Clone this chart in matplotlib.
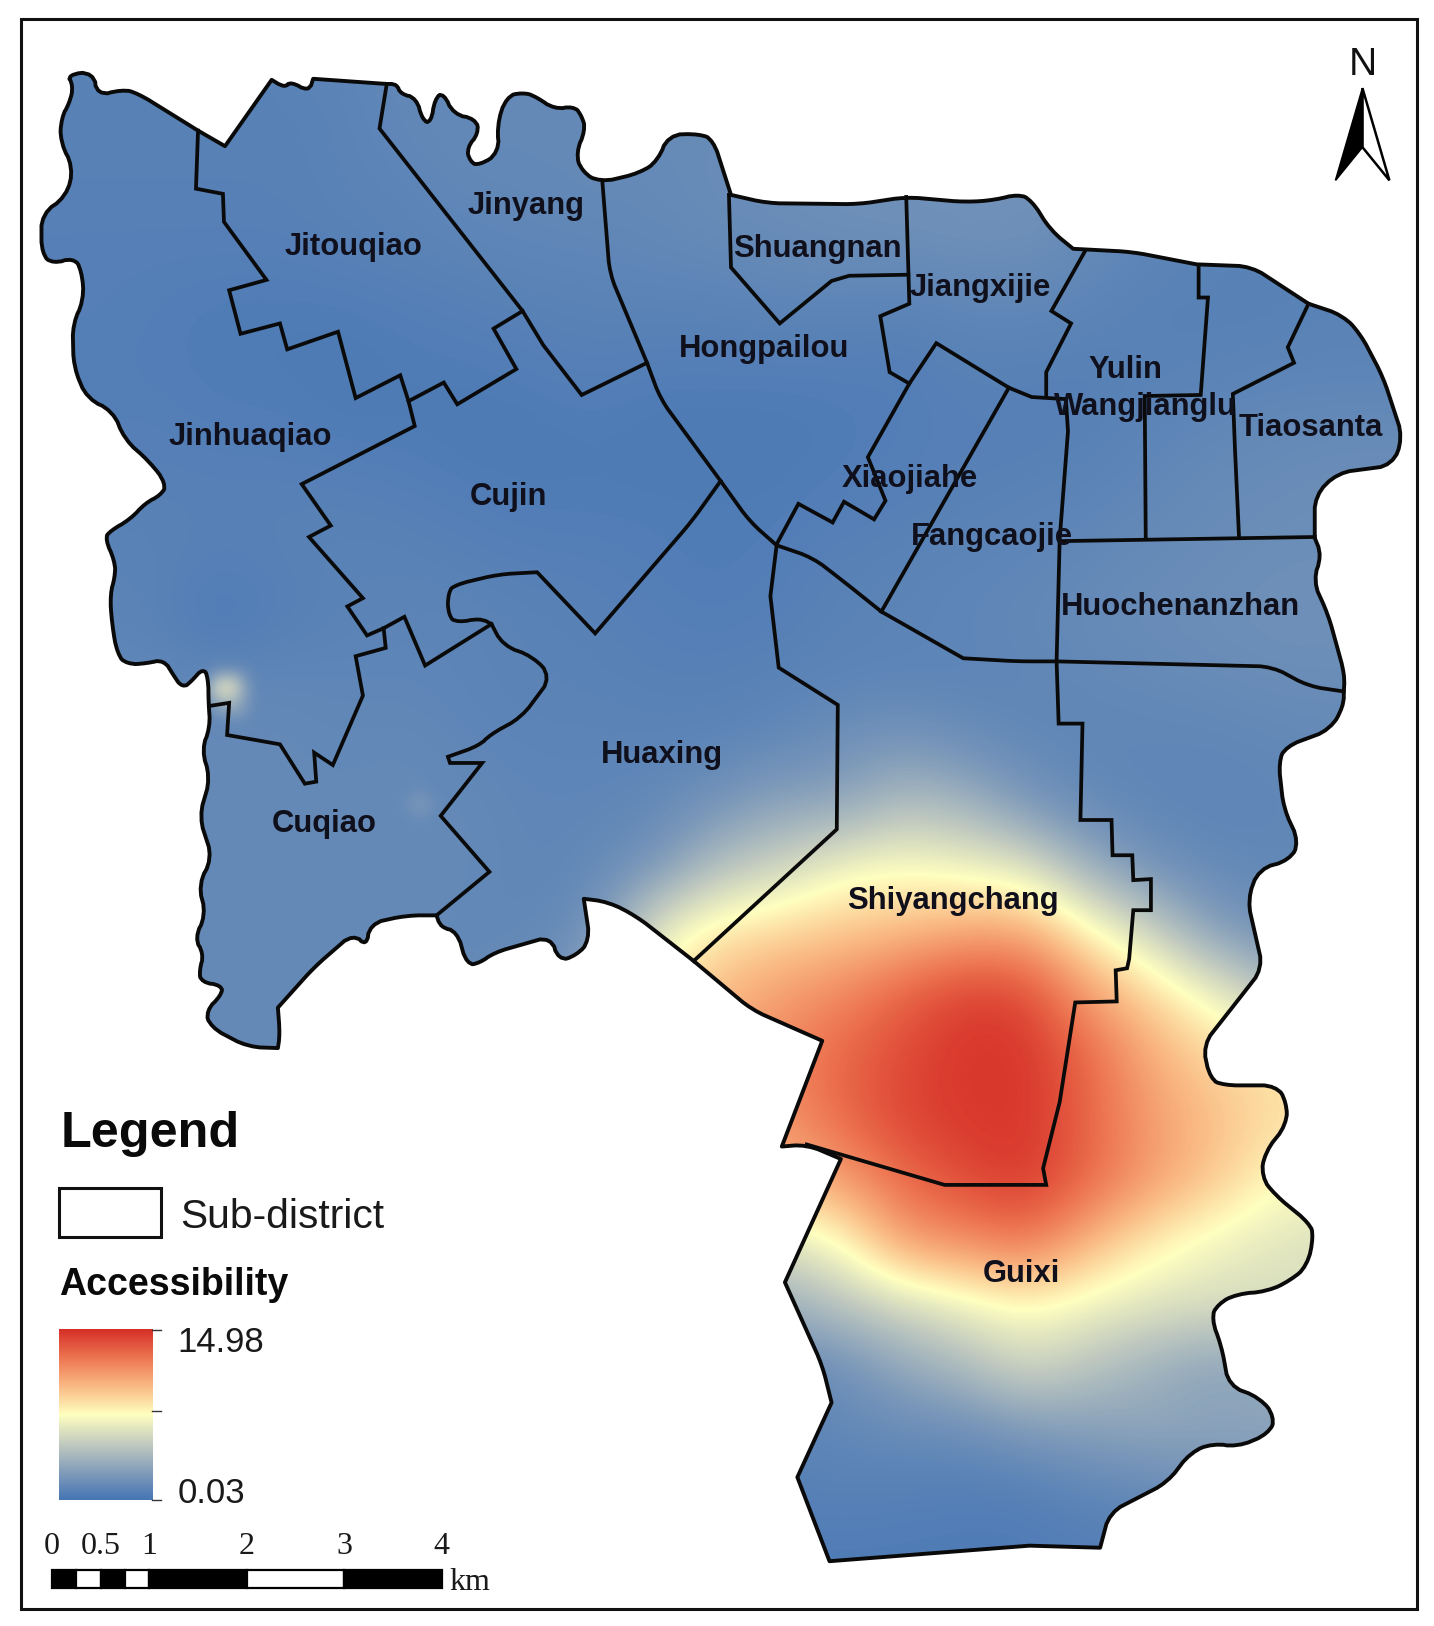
import numpy as np
import matplotlib
matplotlib.use("Agg")
import matplotlib.pyplot as plt
from matplotlib.colors import LinearSegmentedColormap
from matplotlib.patches import Polygon, Rectangle

plt.rcParams['font.family'] = ['Liberation Sans', 'DejaVu Sans']

W, H = 1383, 1568.5

# ---- study-area outline (map units) ----
outline = [(64,72),(91,69),(93,93),(118,86),(133,90),(191,126),(217,141),(262,77),(275,85),(280,78),(298,89),(302,76),
 (373,81),(383,81),(386,91),(402,94),(407,116),(416,119),(419,95),(428,89),(437,111),(459,114),(462,129),(450,142),
 (453,156),(462,160),(482,147),(479,122),(488,93),(504,89),(517,93),(535,106),(553,102),(561,111),(565,126),(555,147),
 (561,166),(579,176),(617,167),(635,155),(644,130),(675,129),(688,135),(705,188),(740,196),(828,197),(874,190),
 (931,195),(960,193),(982,187),(995,193),(1013,222),(1035,240),(1092,243),(1154,255),(1207,257),(1262,293),(1295,304),
 (1312,322),(1334,364),(1353,422),(1343,449),(1290,456),(1268,478),(1268,519),(1275,536),(1266,560),(1281,593),
 (1297,651),(1296,667),(1296,681),(1283,704),(1240,720),(1233,735),(1238,780),(1253,812),(1244,830),(1214,838),
 (1203,868),(1218,934),(1193,966),(1160,1008),(1167,1041),(1180,1047),(1231,1047),(1241,1063),(1241,1085),(1220,1111),
 (1216,1135),(1230,1153),(1263,1180),(1267,1192),(1261,1221),(1245,1235),(1222,1246),(1193,1248),(1174,1258),
 (1168,1272),(1178,1298),(1185,1337),(1215,1348),(1230,1367),(1224,1383),(1193,1396),(1170,1392),(1148,1401),
 (1126,1430),(1070,1459),(1061,1493),(993,1491),(800,1506),(769,1425),(802,1353),(793,1317),(757,1237),(811,1118),
 (778,1104),(754,1106),(793,1004),(725,974),(669,927),(614,884),(587,870),(563,867),(569,907),(556,922),(538,927),
 (532,903),(476,919),(463,929),(450,931),(441,898),(425,895),(421,883),(392,883),(356,891),(354,914),(341,900),
 (303,933),(268,972),(270,998),(268,1011),(239,1010),(203,991),(198,975),(214,960),(214,950),(194,948),(192,936),
 (197,920),(187,905),(199,883),(191,853),(205,828),(192,788),(203,750),(194,723),(203,702),(201,678),(201,654),
 (196,644),(185,657),(176,664),(167,651),(158,636),(142,640),(122,641),(113,631),(108,602),(106,573),(111,557),
 (111,541),(101,520),(106,512),(126,501),(140,485),(155,478),(161,467),(144,445),(120,424),(109,396),(84,385),
 (71,354),(70,312),(81,290),(79,261),(71,248),(51,255),(40,245),(40,206),(64,190),(71,161),(58,138),(59,113),
 (67,100),(71,82)]

# vertices of the outline and of the curved boundaries that stay sharp corners
sharp = {(191,126),(217,141),(262,77),(302,76),(373,81),(705,188),(1262,293),(1268,519),(1061,1493),(993,1491),(800,1506),
         (769,1425),(802,1353),(757,1237),(811,1118),(754,1106),(793,1004),(669,927),(563,867),(421,883),(268,972),
         (268,1011),(1296,667),(1035,240),(1154,255),
         (624,350),(695,464),(749,526),(850,590),(1019,638),(929,635),(574,611),(518,552),(474,602),(465,736),(425,787),
         (472,841),(434,736),(432,730)}

# ---- sub-district boundaries (map units) ----
boundaries = [
 [(191,126),(189,182),(215,187),(216,214),(257,270),(221,280),(232,322),(270,312),(277,337),(326,320),(343,384),
  (386,362),(394,387),(428,369),(441,390),(498,356),(476,317),(504,300)],
 [(394,387),(400,411),(291,467),(319,507),(298,518),(350,577),(335,585),(354,613),(370,606),(390,595),(410,642),(474,602)],
 [(373,81),(366,124),(504,300),(524,333),(561,381),(624,350)],
 [(581,176),(588,264),(624,350),(637,385),(695,464),(723,503),(749,526),(784,538),(815,562),(850,590),(929,635),
  (982,638),(1019,638),(1227,643),(1262,662),(1296,667)],
 [(695,464),(667,503),(574,611),(518,552),(481,554),(439,564),(432,571),(432,594),(441,601),(463,596),(474,602),
  (485,623),(514,633),(532,653),(503,692),(472,709),(463,719),(432,730),(434,736),(465,736),(425,787),(472,841),(421,883)],
 [(370,606),(372,625),(343,633),(350,671),(321,738),(303,726),(305,754),(294,756),(270,718),(219,709),(221,678),(202,681)],
 [(749,526),(743,575),(751,644),(808,680),(807,800),(669,927)],
 [(703,188),(705,258),(752,312),(802,271),(819,266),(876,265)],
 [(874,190),(877,293),(849,305),(858,359),(877,370)],
 [(749,525),(770,486),(803,504),(814,484),(843,501),(854,483),(837,441),(877,370),(903,331),(973,374),(995,383),(1028,385)],
 [(973,374),(850,590)],
 [(1028,385),(1030,416),(1022,520),(1019,638),(1021,698),(1044,698),(1042,791),(1072,791),(1073,825),(1092,825),
  (1093,849),(1110,848),(1110,878),(1093,878),(1089,925),(1087,934),(1076,936),(1077,966),(1037,967),(1022,1063),
  (1006,1127),(1009,1143),(911,1143),(778,1104)],
 [(1046,243),(1014,300),(1033,312),(1009,359),(1009,383)],
 [(1156,256),(1156,287),(1165,287),(1158,381),(1104,382),(1105,520)],
 [(1262,293),(1242,335),(1248,350),(1189,380),(1191,432),(1195,519)],
 [(1022,522),(1268,518)],
]
curved_boundaries = [3, 4]

# ---- sub-district names ----
label_names = ["Jinyang","Jitouqiao","Shuangnan","Jiangxijie","Hongpailou","Yulin","Wangjianglu","Tiaosanta",
               "Jinhuaqiao","Cujin","Xiaojiahe","Fangcaojie","Huochenanzhan","Huaxing","Cuqiao","Shiyangchang","Guixi"]
label_x = [507,341,788,945,737,1085,1105,1264,241,490,877,957,1138,638,313,919,985]
label_y = [196,235,237,275,334,354,390,410,419,476,459,515,583,725,792,866,1226]

# ---- accessibility raster, sampled from the map ----
grid_x = [30,90,150,210,270,330,390,450,510,570,630,690,750,810,870,930,990,1050,1110,1170,1230,1290,1350]
grid_y = [60,120,180,240,300,360,420,480,540,600,660,720,780,840,900,960,1020,1080,1140,1200,1260,1320,1380,1440,1500]
access = [
 [.8,.8,.8,.8,.9,1,1.2,1.2,1.2,1.3,1.3,1.3,1.4,1.5,1.6,1.7,1.7,1.5,1.3,1.2,1.2,1.2,1.2],
 [.8,.8,.8,.8,.8,.9,1.2,1.3,1.3,1.3,1.4,1.4,1.5,1.6,1.7,1.8,1.8,1.5,1.3,1.2,1.2,1.2,1.2],
 [.8,.8,.8,.8,.8,.9,1,1.2,1.2,1.3,1.3,1.5,1.6,1.7,1.8,1.9,1.9,1.6,1.2,.9,.9,.9,.9],
 [.7,.7,.7,.7,.7,.8,.9,1,1.1,1.1,1.2,1.3,1.4,1.5,1.5,1.6,1.6,1.3,1,.9,.8,.9,.9],
 [.7,.7,.6,.5,.5,.5,.6,.7,.8,.9,.9,.9,1,1,.9,1.1,1.1,1,.8,.8,.8,.9,.9],
 [.6,.6,.6,.5,.5,.4,.5,.5,.6,.7,.6,.6,.6,.6,.6,.8,.8,.7,.9,.9,1,1,1],
 [.7,.7,.7,.6,.6,.5,.5,.4,.4,.5,.4,.4,.4,.5,.6,.7,.7,.8,1,1.2,1.3,1.4,1.4],
 [.8,.8,.8,.8,.8,.8,.7,.6,.5,.5,.5,.5,.5,.6,.7,.8,.9,1,1.2,1.4,1.5,1.6,1.6],
 [.9,.9,.9,.7,.8,.9,.9,.8,.7,.7,.6,.5,.6,.8,.9,1,1.1,1.2,1.4,1.5,1.6,1.6,1.6],
 [1,1,.9,.3,.7,.9,1,1,.9,.8,.7,.6,.7,.9,1,1.1,1.2,1.4,1.5,1.6,1.7,1.7,1.7],
 [1.2,1.2,1.2,1.2,1.2,1.1,1.1,1,.9,.9,.8,.8,.9,1,1,1,1.1,1.2,1.3,1.4,1.5,1.5,1.5],
 [1.3,1.3,1.3,1.3,1.3,1.2,1.3,1.1,1,1,1,1,1.2,1.7,2.2,1.6,1.2,1.1,1.1,1.1,1.2,1.3,1.3],
 [1.3,1.3,1.3,1.3,1.3,1.3,1.3,1.3,1.1,1.1,1.2,2,3,3,4.5,4,2.2,1.3,1.1,1,1.1,1.2,1.2],
 [1.3,1.3,1.3,1.3,1.3,1.3,1.3,1.3,1.1,1.2,2,4.5,5.5,7.2,7.5,7,6.5,3.5,1.8,1.3,1.2,1.2,1.2],
 [1.3,1.3,1.3,1.3,1.3,1.3,1.3,1.2,1.2,1.5,6.5,8.5,9,9.5,10,10.8,10.8,8,5.5,2.5,1.7,1.5,1.5],
 [1.3,1.3,1.3,1.3,1.3,1.3,1.3,1.3,1.5,3,8,10,11,11.8,13.2,14.4,14.2,11,9,7,4.5,3,3],
 [1.3,1.3,1.3,1.3,1.3,1.3,1.3,1.3,1.5,3,8,10.5,11.8,13,14,14.8,14.8,13,10.5,9,8.5,8,8],
 [1.3,1.3,1.3,1.3,1.3,1.3,1.3,1.3,1.5,3,8,10.5,11.2,12.8,14.2,14.6,14.8,13,11,9.8,8.7,8.5,8.5],
 [1.3,1.3,1.3,1.3,1.3,1.3,1.3,1.3,1.5,3,7,9.5,10,10.8,12.8,14,14.7,13,11,9.5,7.6,7,7],
 [1.3,1.3,1.3,1.3,1.3,1.3,1.3,1.3,1.5,2.5,4,5,6,7.2,11,11.5,12.5,10,8,6.8,6.2,6,6],
 [1.3,1.3,1.3,1.3,1.3,1.3,1.3,1.3,1.4,1.8,2.2,2.8,3.3,4.5,5.5,6.6,7.6,6.8,6.2,6,6,6,6],
 [1.3,1.3,1.3,1.3,1.3,1.3,1.3,1.3,1.2,1.2,1.2,1.2,1.2,1.5,3,4,5.6,4.5,3.5,2.5,3,3,3],
 [1.2,1.2,1.2,1.2,1.2,1.2,1.2,1.2,1.1,1.1,1,1,1,1.2,1.4,1.5,2.2,2.6,3,3,3,3,3],
 [1,1,1,1,1,1,1,1,1,1,.9,.8,.7,.8,.7,.6,.6,1,1.2,1.5,1.5,1.5,1.5],
 [.8,.8,.8,.8,.8,.8,.8,.8,.8,.8,.7,.6,.5,.5,.5,.5,.5,.6,.7,.8,.8,.8,.8],
]

# fine local samples around the two small bright spots
hot_x = [180,194,208,222,236,250,264]
hot_y = [636,650,664,678,692,706]
hot_vals = [
 [1.2,1.2,1.3,1.3,1.3,1.2,1.2],
 [1.2,1.4,2.6,3.2,2.0,1.3,1.2],
 [1.2,1.8,5.5,6.5,3.2,1.5,1.2],
 [1.2,1.6,3.4,4.0,2.6,1.5,1.2],
 [1.2,1.3,1.8,2.2,2.0,1.4,1.2],
 [1.2,1.2,1.2,1.2,1.2,1.2,1.2],
]
spot_x = [376,390,404,418,432]
spot_y = [748,762,776,790,804]
spot_vals = [
 [1.3,1.3,1.3,1.3,1.3],
 [1.3,1.5,1.8,1.5,1.3],
 [1.3,1.8,2.6,1.8,1.3],
 [1.3,1.5,1.8,1.5,1.3],
 [1.3,1.3,1.3,1.3,1.3],
]

# ---- legend values ----
cbar_min, cbar_max = 0.03, 14.98
ramp_colors = ["#4575B5", "#849EBA", "#C4CCC0", "#FFFFBF", "#FAB984", "#ED7551", "#D62F27"]
scale_km = [0, 0.25, 0.5, 0.75, 1, 2, 3, 4]
scale_labels = ["0", "0.5", "1", "2", "3", "4"]
scale_label_km = [0, 0.5, 1, 2, 3, 4]

cmap = LinearSegmentedColormap.from_list("access", ramp_colors, N=256)


def smooth(points, closed):
    """Round bends by cutting corners over a few map units, keeping the listed sharp vertices."""
    pts = [(np.array(p, float), tuple(p) in sharp) for p in points]
    for cap in (8.0, 3.5):
        new = []
        n = len(pts)
        for i, (p, keep) in enumerate(pts):
            if keep or (not closed and i in (0, n - 1)):
                new.append((p, keep))
                continue
            for q, _ in (pts[(i - 1) % n], pts[(i + 1) % n]):
                d = q - p
                L = np.linalg.norm(d)
                new.append((p + d * min(0.3, cap / L), False))
        pts = new
    return np.array([p for p, _ in pts])


fig = plt.figure(figsize=(14.34, 16.26), dpi=100)
ax = fig.add_axes([0, 0, 1, 1])
ax.set_axis_off()

# frame
ax.add_patch(Rectangle((20, 18), 1347, 1534, fill=False, ec="#111111", lw=2.2, zorder=1))

# raster clipped to the outline
outline_s = smooth(outline, True)
clip = Polygon(outline_s, closed=True, transform=ax.transData, fc="none", ec="none")
ax.add_patch(clip)


def raster(xs, ys, vals, z, base=None):
    dx, dy = (xs[1] - xs[0]) / 2, (ys[1] - ys[0]) / 2
    arr = np.array(vals)
    alpha = None if base is None else np.clip((arr - base) / 0.7, 0, 1)
    im = ax.imshow(arr, cmap=cmap, vmin=cbar_min, vmax=cbar_max, interpolation="bicubic", aspect="auto", alpha=alpha,
                   extent=(xs[0]-dx, xs[-1]+dx, ys[-1]+dy, ys[0]-dy), zorder=z)
    im.set_clip_path(clip)


raster(grid_x, grid_y, access, 2)
raster(hot_x, hot_y, hot_vals, 2.1, base=1.3)
raster(spot_x, spot_y, spot_vals, 2.1, base=1.3)

# boundaries
ax.add_patch(Polygon(outline_s, closed=True, fill=False, ec="#0a0a0a", lw=2.8, joinstyle="round", zorder=3))
for i, line in enumerate(boundaries):
    s = smooth(line, False) if i in curved_boundaries else np.array(line, float)
    ax.plot(s[:, 0], s[:, 1], color="#0a0a0a", lw=2.7, solid_joinstyle="miter", zorder=3)

# names
for name, x, y in zip(label_names, label_x, label_y):
    ax.text(x, y + 3, name, ha="center", va="center", fontsize=22.3, fontweight="bold", color="#10101c", zorder=4)

# legend
ax.text(58, 1094, "Legend", ha="left", va="center", fontsize=36.3, fontweight="bold", color="#0a0a0a")
ax.add_patch(Rectangle((57, 1146), 98, 47, fill=False, ec="#111111", lw=2.2))
ax.text(174, 1174, "Sub-district", ha="left", va="center", fontsize=29.3, color="#1a1a1a")
ax.text(57, 1240, "Accessibility", ha="left", va="center", fontsize=27, fontweight="bold", color="#0a0a0a")

ramp = np.linspace(cbar_max, cbar_min, 256).reshape(-1, 1)
ax.imshow(ramp, cmap=cmap, vmin=cbar_min, vmax=cbar_max, aspect="auto", extent=(57, 147, 1447, 1283), zorder=2)
for ty in (1283, 1361, 1447):
    ax.plot([147, 155], [ty, ty], color="#333333", lw=1.0, zorder=3)
ax.text(171, 1295, f"{cbar_max:.2f}", ha="left", va="center", fontsize=25, color="#1a1a1a")
ax.text(171, 1441, f"{cbar_min:.2f}", ha="left", va="center", fontsize=25, color="#1a1a1a")

# scale bar: km -> map units
km_x0, km_unit = 50, 94
bar_y0, bar_y1 = 1514, 1532
for i in range(len(scale_km) - 1):
    a, b = km_x0 + km_unit * scale_km[i], km_x0 + km_unit * scale_km[i+1]
    ax.add_patch(Rectangle((a, bar_y0), b - a, bar_y1 - bar_y0, fc="black" if i % 2 == 0 else "white", ec="black", lw=1.6, zorder=3))
for lab, km in zip(scale_labels, scale_label_km):
    ax.text(km_x0 + km_unit * km, 1492, lab, ha="center", va="center", fontsize=23, family="Liberation Serif", color="#1a1a1a")
ax.text(433, 1527, "km", ha="left", va="center", fontsize=23, family="Liberation Serif", color="#1a1a1a")

# north arrow
ax.add_patch(Polygon([(1314, 85), (1340, 174), (1314, 142)], closed=True, fc="white", ec="black", lw=1.8, joinstyle="miter", zorder=3))
ax.add_patch(Polygon([(1314, 85), (1288, 174), (1314, 142)], closed=True, fc="black", ec="black", lw=1.2, zorder=3))
ax.text(1314, 63, "N", ha="center", va="center", fontsize=28, color="#111111")

ax.set_xlim(0, W)
ax.set_ylim(H, 0)
fig.savefig("out.png", dpi=100, facecolor="white")
